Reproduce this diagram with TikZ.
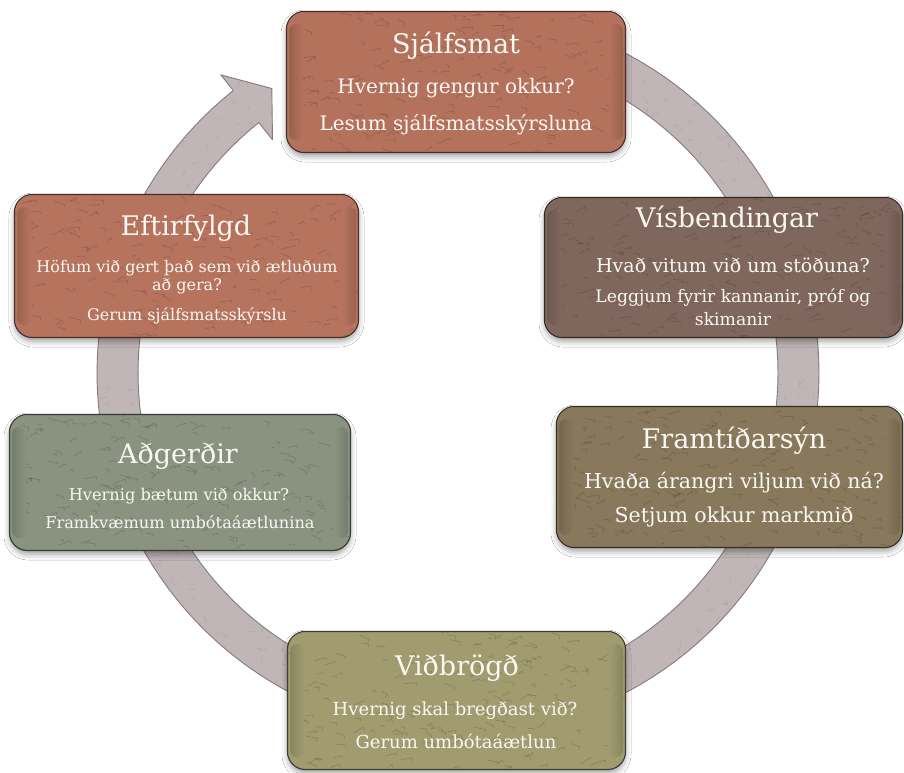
\documentclass[tikz,border=0pt]{standalone}
\usepackage{fontspec}
\setmainfont{DejaVu Serif}
\usetikzlibrary{shadows.blur}
\definecolor{cSelf}{RGB}{180,114,92}
\definecolor{cFollow}{RGB}{182,116,94}
\definecolor{cIndic}{RGB}{128,103,93}
\definecolor{cVision}{RGB}{136,121,92}
\definecolor{cReact}{RGB}{160,156,112}
\definecolor{cAction}{RGB}{137,147,127}
\definecolor{ringfill}{RGB}{192,181,183}
\definecolor{ringedge}{RGB}{135,122,124}
\definecolor{txt}{RGB}{250,247,243}
\tikzset{
  cbox/.style={rectangle, rounded corners=18pt, line width=1.1pt, inner sep=0pt,
    blur shadow={shadow xshift=0pt, shadow yshift=-4pt, shadow blur radius=6pt, shadow opacity=40}},
  ttl/.style={anchor=base, text=txt, font=\fontsize{27}{30}\selectfont, inner sep=0pt},
  subA/.style={anchor=base, text=txt, font=\fontsize{20}{24}\selectfont, inner sep=0pt},
  subB/.style={anchor=base, text=txt, font=\fontsize{16}{20}\selectfont, inner sep=0pt},
  subC/.style={anchor=base, text=txt, font=\fontsize{19}{23}\selectfont, inner sep=0pt},
  subCs/.style={anchor=base, text=txt, font=\fontsize{17.2}{21}\selectfont, inner sep=0pt},
  subD/.style={anchor=base, text=txt, font=\fontsize{20.5}{24}\selectfont, inner sep=0pt},
  subE/.style={anchor=base, text=txt, font=\fontsize{16.2}{20}\selectfont, inner sep=0pt},
  subF/.style={anchor=base, text=txt, font=\fontsize{18}{22}\selectfont, inner sep=0pt},
}
\newcommand\ringpath{%
  ({458+320*cos(128.5)},{373-320*sin(128.5)}) --
  ({458+298*cos(128.5)},{373-298*sin(128.5)}) --
  ({458+340*cos(123.2)},{373-340*sin(123.2)}) --
  ({458+381*cos(128.5)},{373-381*sin(128.5)}) --
  plot[domain=128.5:435, samples=140] ({458+361*cos(\x)},{373-361*sin(\x)}) --
  plot[domain=435:128.5, samples=140] ({458+320*cos(\x)},{373-320*sin(\x)}) -- cycle}
\newcommand\cyclebox[6]{%
  \node[cbox, fill=#6, minimum width={#4-#2}, minimum height={#5-#3}] (#1) at ({(#2+#4)/2},{(#3+#5)/2}) {};
  \begin{scope}
    \clip[rounded corners=18pt] (#2,#3) rectangle (#4,#5);
    \foreach \k in {1,...,170}{
      \pgfmathsetmacro\px{#2+rnd*(#4-#2)}
      \pgfmathsetmacro\py{#3+rnd*(#5-#3)}
      \pgfmathsetmacro\ang{-40+rnd*70}
      \pgfmathsetmacro\len{3+rnd*9}
      \draw[#6!50!black, opacity=0.3, line width=0.7pt, line cap=round] (\px,\py) -- ++(\ang:\len) -- ++({\ang+60+rnd*60}:{1+rnd*3});
    }
    \shade[left color=#6!85!black, middle color=#6!25!white, right color=#6, rounded corners=7pt] ({#2+2},{#3+12}) rectangle ({#2+16},{#5-12});
    \shade[right color=#6!85!black, middle color=#6!25!white, left color=#6, rounded corners=7pt] ({#4-16},{#3+12}) rectangle ({#4-2},{#5-12});
  \end{scope}
  \draw[#6!40!black, line width=1.2pt, rounded corners=18pt] (#1.south west) rectangle (#1.north east);
}
\begin{document}
\begin{tikzpicture}[x=1pt,y=-1pt]
\useasboundingbox (0,0) rectangle (904,772);
\fill[white] (0,0) rectangle (904,772);
% ring arrow
\fill[ringfill] \ringpath;
\pgfmathsetseed{5}
\begin{scope}
  \clip \ringpath;
  \foreach \k in {1,...,260}{
    \pgfmathsetmacro\aa{120+rnd*320}
    \pgfmathsetmacro\rr{318+rnd*46}
    \pgfmathsetmacro\ang{rnd*360}
    \draw[ringedge, opacity=0.25, line width=0.6pt, line cap=round] ({458+\rr*cos(\aa)},{373-\rr*sin(\aa)}) -- ++(\ang:{2+rnd*6});
  }
\end{scope}
\draw[ringedge, line width=0.9pt, line join=round] \ringpath;
\pgfmathsetseed{11}
\cyclebox{self}{287}{12}{625}{152}{cSelf}
\cyclebox{follow}{15}{195}{358}{337}{cFollow}
\cyclebox{indic}{545}{198}{902}{337}{cIndic}
\cyclebox{action}{10}{415}{350}{550}{cAction}
\cyclebox{vision}{557}{407}{902}{547}{cVision}
\cyclebox{react}{288}{632}{625}{769}{cReact}
% texts
\node[ttl] (selfT) at (456,53) {Sjálfsmat};
\node[subA] (selfA) at (456,93) {Hvernig gengur okkur?};
\node[subA] (selfB) at (456,130) {Lesum sjálfsmatsskýrsluna};
\node[ttl] (followT) at (186,235) {Eftirfylgd};
\node[subB] (followA) at (187,272) {Höfum við gert það sem við ætluðum};
\node[subB] (followB) at (187,290) {að gera?};
\node[subB] (followC) at (187,320) {Gerum sjálfsmatsskýrslu};
\node[ttl] (indicT) at (727,227) {Vísbendingar};
\node[subC] (indicA) at (733,272) {Hvað vitum við um stöðuna?};
\node[subCs] (indicB) at (733,302) {Leggjum fyrir kannanir, próf og};
\node[subCs] (indicC) at (733,325) {skimanir};
\node[ttl] (visionT) at (734,448) {Framtíðarsýn};
\node[subD] (visionA) at (734,488) {Hvaða árangri viljum við ná?};
\node[subD] (visionB) at (734,522) {Setjum okkur markmið};
\node[ttl] (actionT) at (178,463) {Aðgerðir};
\node[subE] (actionA) at (179,500) {Hvernig bætum við okkur?};
\node[subE] (actionB) at (180,528) {Framkvæmum umbótaáætlunina};
\node[ttl] (reactT) at (457,675) {Viðbrögð};
\node[subF] (reactA) at (455,715) {Hvernig skal bregðast við?};
\node[subF] (reactB) at (456,748) {Gerum umbótaáætlun};
\end{tikzpicture}
\end{document}
